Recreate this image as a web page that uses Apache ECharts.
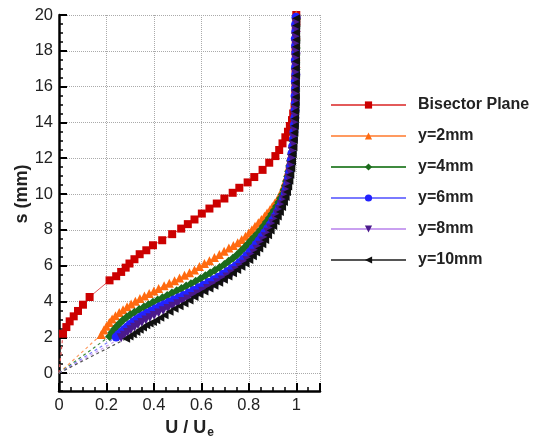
<!DOCTYPE html>
<html>
<head>
	<meta charset="UTF-8">
	<script src="https://cdn.jsdelivr.net/npm/echarts@6/dist/echarts.min.js"></script>
	<title></title>
	<style>body{margin:0;background:#fff;}</style>
</head>
<body>
	<div id="main" style="height:440px;width:538px;"></div>
	<script type="text/javascript">
        var seriesNames = ['Bisector Plane', 'y=2mm', 'y=4mm', 'y=6mm', 'y=8mm', 'y=10mm'];
        var xTicks = [0, 0.2, 0.4, 0.6, 0.8, 1];
        var yTicks = [0, 2, 4, 6, 8, 10, 12, 14, 16, 18, 20];

        // [U/Ue, s(mm)]
        var bisector = [[0.017,2.2],[0.031,2.57],[0.045,2.89],[0.062,3.17],[0.080,3.47],[0.101,3.82],[0.129,4.25],
            [0.213,5.18],[0.241,5.41],[0.262,5.65],[0.281,5.89],[0.297,6.12],[0.318,6.36],[0.340,6.64],[0.368,6.86],
            [0.396,7.14],[0.435,7.42],[0.477,7.76],[0.515,8.07],[0.543,8.32],[0.571,8.58],[0.602,8.91],[0.634,9.19],
            [0.665,9.47],[0.697,9.75],[0.732,10.07],[0.76,10.35],[0.795,10.65],[0.823,10.95],[0.858,11.35],[0.886,11.75],
            [0.912,12.12],[0.928,12.46],[0.942,12.83],[0.954,13.17],[0.965,13.48],[0.973,13.8],[0.982,14.13],[0.987,14.5],
            [0.993,14.88],[0.995,15.25],[0.996,15.6],[0.997,16.0],[0.996,16.4],[0.997,16.8],[0.998,17.2],[0.998,17.6],
            [0.997,18.0],[0.998,18.4],[0.999,18.8],[0.998,19.2],[1.0,19.6],[1.0,20.0]];
        var y2mm = [[0.178,2.15],[0.189,2.4],[0.2,2.62],[0.212,2.82],[0.224,3.02],[0.238,3.2],[0.254,3.38],[0.27,3.54],
            [0.287,3.7],[0.304,3.86],[0.322,4.01],[0.341,4.16],[0.36,4.3],[0.38,4.45],[0.4,4.59],[0.42,4.73],[0.443,4.88],
            [0.465,5.02],[0.487,5.16],[0.508,5.31],[0.529,5.46],[0.55,5.6],[0.571,5.76],[0.592,5.95],[0.613,6.12],
            [0.634,6.28],[0.655,6.45],[0.676,6.62],[0.696,6.8],[0.716,6.98],[0.735,7.12],[0.753,7.28],[0.77,7.46],
            [0.786,7.64],[0.8,7.82],[0.813,8.0],[0.826,8.2],[0.84,8.4],[0.853,8.58],[0.866,8.76],[0.877,8.94],[0.889,9.12],
            [0.899,9.3],[0.909,9.48],[0.919,9.66],[0.928,9.86],[0.936,10.06],[0.943,10.28],[0.949,10.5],[0.955,10.74],
            [0.96,10.98],[0.965,11.25],[0.97,11.55],[0.974,11.85],[0.978,12.2],[0.982,12.55],[0.985,12.9],[0.988,13.3],
            [0.99,13.7],[0.992,14.1],[0.994,14.5],[0.995,14.9],[0.996,15.3],[0.997,15.7],[0.998,16.1],[0.997,16.5],
            [0.998,16.9],[0.999,17.3],[0.998,17.7],[0.999,18.1],[0.998,18.5],[0.999,18.9],[1.0,19.3],[0.999,19.7],[1.0,20.0]];
        var y4mm = [[0.213,2.05],[0.223,2.27],[0.234,2.46],[0.245,2.63],[0.257,2.8],[0.27,2.96],[0.285,3.12],[0.3,3.26],
            [0.318,3.4],[0.338,3.55],[0.358,3.69],[0.377,3.82],[0.396,3.95],[0.416,4.08],[0.436,4.21],[0.456,4.34],
            [0.476,4.47],[0.496,4.6],[0.516,4.73],[0.536,4.86],[0.556,4.99],[0.576,5.13],[0.597,5.28],[0.617,5.43],
            [0.637,5.59],[0.657,5.75],[0.677,5.9],[0.697,6.06],[0.715,6.24],[0.733,6.42],[0.75,6.6],[0.766,6.8],
            [0.781,7.0],[0.795,7.2],[0.809,7.4],[0.823,7.6],[0.837,7.8],[0.85,8.0],[0.862,8.22],[0.874,8.44],[0.886,8.66],
            [0.897,8.88],[0.907,9.1],[0.917,9.32],[0.926,9.54],[0.934,9.76],[0.942,9.98],[0.948,10.22],[0.954,10.46],
            [0.959,10.72],[0.964,10.98],[0.968,11.26],[0.972,11.56],[0.976,11.88],[0.98,12.22],[0.983,12.58],[0.986,12.96],
            [0.989,13.36],[0.991,13.76],[0.993,14.16],[0.995,14.56],[0.996,14.96],[0.997,15.36],[0.998,15.76],[0.997,16.16],
            [0.998,16.56],[0.999,16.96],[0.998,17.36],[0.999,17.76],[1.0,18.16],[0.999,18.56],[0.998,18.96],[0.999,19.36],
            [1.0,19.76]];
        var y6mm = [[0.241,2.01],[0.252,2.16],[0.264,2.3],[0.276,2.44],[0.288,2.58],[0.3,2.72],[0.313,2.85],[0.327,2.98],
            [0.341,3.1],[0.356,3.22],[0.372,3.34],[0.389,3.46],[0.406,3.58],[0.424,3.7],[0.443,3.82],[0.463,3.95],
            [0.484,4.08],[0.505,4.21],[0.526,4.34],[0.547,4.48],[0.568,4.62],[0.589,4.76],[0.61,4.91],[0.631,5.06],
            [0.652,5.21],[0.672,5.36],[0.692,5.52],[0.711,5.68],[0.729,5.84],[0.746,6.0],[0.762,6.18],[0.777,6.36],
            [0.791,6.56],[0.805,6.76],[0.818,6.96],[0.831,7.18],[0.843,7.4],[0.855,7.62],[0.867,7.84],[0.879,8.06],
            [0.89,8.28],[0.901,8.52],[0.911,8.76],[0.921,9.0],[0.93,9.25],[0.939,9.5],[0.947,9.76],[0.954,10.02],
            [0.959,10.3],[0.964,10.58],[0.968,10.88],[0.972,11.2],[0.976,11.54],[0.979,11.9],[0.982,12.28],[0.985,12.68],
            [0.988,13.08],[0.99,13.48],[0.992,13.88],[0.994,14.28],[0.995,14.68],[0.996,15.08],[0.995,15.48],[0.997,15.88],
            [0.996,16.28],[0.998,16.68],[0.997,17.08],[0.996,17.48],[0.998,17.88],[0.997,18.28],[0.996,18.68],[0.998,19.08],
            [0.997,19.48],[0.999,19.88]];
        var y8mm = [[0.262,1.97],[0.275,2.12],[0.289,2.27],[0.303,2.42],[0.318,2.56],[0.333,2.7],[0.349,2.83],[0.366,2.96],
            [0.383,3.09],[0.401,3.22],[0.42,3.35],[0.439,3.48],[0.459,3.61],[0.479,3.74],[0.5,3.87],[0.521,4.0],[0.542,4.14],
            [0.563,4.28],[0.584,4.42],[0.605,4.57],[0.626,4.72],[0.647,4.88],[0.668,5.04],[0.688,5.2],[0.708,5.37],
            [0.727,5.54],[0.745,5.72],[0.762,5.9],[0.778,6.08],[0.793,6.28],[0.807,6.48],[0.821,6.7],[0.834,6.92],
            [0.847,7.14],[0.859,7.38],[0.87,7.62],[0.881,7.86],[0.891,8.1],[0.901,8.36],[0.911,8.62],[0.92,8.88],
            [0.929,9.14],[0.938,9.42],[0.946,9.7],[0.953,9.98],[0.959,10.28],[0.964,10.58],[0.969,10.9],[0.973,11.24],
            [0.977,11.6],[0.981,11.98],[0.984,12.38],[0.987,12.78],[0.99,13.18],[0.992,13.58],[0.994,13.98],[0.995,14.38],
            [0.996,14.78],[0.997,15.18],[0.996,15.58],[0.997,15.98],[0.998,16.38],[0.996,16.78],[0.997,17.18],[0.998,17.58],
            [0.997,17.98],[0.998,18.38],[0.997,18.78],[0.998,19.18],[0.999,19.58]];
        var y10mm = [[0.283,1.92],[0.297,2.05],[0.311,2.17],[0.326,2.29],[0.34,2.42],[0.354,2.55],[0.368,2.67],[0.382,2.77],
            [0.396,2.86],[0.41,2.95],[0.427,3.09],[0.445,3.23],[0.466,3.42],[0.487,3.6],[0.508,3.74],[0.529,3.88],
            [0.55,4.06],[0.571,4.25],[0.592,4.4],[0.613,4.56],[0.634,4.72],[0.655,4.88],[0.675,5.05],[0.695,5.22],
            [0.714,5.4],[0.733,5.58],[0.751,5.76],[0.769,5.94],[0.786,6.12],[0.802,6.32],[0.817,6.52],[0.831,6.74],
            [0.844,6.96],[0.857,7.2],[0.869,7.44],[0.881,7.7],[0.892,7.96],[0.903,8.22],[0.913,8.48],[0.922,8.74],
            [0.931,9.0],[0.94,9.28],[0.948,9.56],[0.955,9.84],[0.961,10.12],[0.966,10.42],[0.971,10.74],[0.975,11.08],
            [0.979,11.44],[0.982,11.82],[0.985,12.22],[0.988,12.62],[0.99,13.02],[0.992,13.42],[0.994,13.82],[0.995,14.22],
            [0.996,14.62],[0.997,15.02],[0.998,15.42],[0.997,15.82],[0.998,16.22],[0.999,16.62],[0.998,17.02],[0.999,17.42],
            [0.998,17.82],[0.999,18.22],[1.0,18.62],[0.999,19.02],[1.0,19.42],[1.0,19.82]];
        var wallPoint = [0, 0];

        var allData = [bisector, y2mm, y4mm, y6mm, y8mm, y10mm];
        var markerColors = ['#cc0000', '#ff6a10', '#1c6b1c', '#2222ff', '#4b1a8c', '#111111'];
        var lineColors = ['#e35a5a', '#ff9a60', '#3f8a3f', '#7a7aff', '#c9a0f0', '#555555'];
        var symbols = ['rect', 'triangle', 'diamond', 'circle', 'triangle', 'triangle'];
        var rotates = [0, 0, 0, 0, 180, 90];
        var sizes = [8, 9, 9, 9, 9, 8];

        var font = 'Liberation Sans, Arial, sans-serif';
        var myChart = echarts.init(document.getElementById('main'));

        var series = [];
        // dashed extension from the wall to the first point
        for (var i = 0; i < allData.length; i++) {
            series.push({
                type: 'line',
                name: seriesNames[i] + ' wall',
                xAxisIndex: 0, yAxisIndex: 0,
                data: [wallPoint, allData[i][0]],
                showSymbol: false,
                silent: true,
                lineStyle: {color: lineColors[i], width: 1.2, type: [3, 3]}
            });
        }
        for (var i = 0; i < allData.length; i++) {
            series.push({
                type: 'line',
                name: seriesNames[i],
                xAxisIndex: 0, yAxisIndex: 0,
                data: allData[i],
                symbol: symbols[i],
                symbolRotate: rotates[i],
                symbolSize: sizes[i],
                showAllSymbol: true,
                itemStyle: {color: markerColors[i]},
                lineStyle: {color: lineColors[i], width: 1}
            });
        }

        var option = {
            animation: false,
            backgroundColor: '#fff',
            textStyle: {fontFamily: font},
            grid: [
                {left: 59, right: 218, top: 15, bottom: 49, outerBoundsMode: 'none', containLabel: false},
                {left: 59, right: 218, top: 15, bottom: 49 + 376 / 21, outerBoundsMode: 'none', containLabel: false}
            ],
            legend: {
                orient: 'vertical',
                left: 330, top: 97, padding: 0,
                itemWidth: 75, itemHeight: 9, itemGap: 15,
                data: seriesNames,
                textStyle: {fontFamily: font, fontSize: 16, fontWeight: 'bold', color: '#222', padding: [0, 0, 0, 7]}
            },
            xAxis: [
                {
                    type: 'value', gridIndex: 0, min: 0, max: 1.1, interval: 0.2,
                    axisLine: {show: true, onZero: false, lineStyle: {color: '#000', width: 2.5}},
                    axisTick: {show: true, inside: true, length: 8, lineStyle: {color: '#000', width: 2}},
                    minorTick: {show: true, splitNumber: 4, length: 4, lineStyle: {color: '#000', width: 1.5}},
                    axisLabel: {
                        fontSize: 16.5, color: '#222', margin: 6,
                        formatter: function (v) {
                            var r = Math.round(v * 10) / 10;
                            return (Math.abs(v - r) < 1e-6 && xTicks.indexOf(r) >= 0) ? String(r) : '';
                        }
                    },
                    splitLine: {show: true, lineStyle: {color: '#aaa', type: 'dotted', width: 1}},
                    name: '{a|U / U}{b|e}',
                    nameLocation: 'middle', nameGap: 26,
                    nameTextStyle: {
                        rich: {
                            a: {fontSize: 18, fontWeight: 'bold', color: '#222', fontFamily: font},
                            b: {fontSize: 12, fontWeight: 'bold', color: '#222', fontFamily: font, padding: [10, 0, 0, 1]}
                        }
                    }
                },
                {
                    type: 'value', gridIndex: 1, min: 0, max: 1.1, show: false
                }
            ],
            yAxis: [
                {
                    type: 'value', gridIndex: 0, min: -1, max: 20, interval: 0.5,
                    axisLine: {show: true, onZero: false, lineStyle: {color: '#000', width: 2.5}},
                    axisTick: {show: true, inside: true, length: 4, lineStyle: {color: '#000', width: 1.5}},
                    axisLabel: {show: false},
                    splitLine: {show: false}
                },
                {
                    type: 'value', gridIndex: 1, min: 0, max: 20, interval: 2,
                    axisLine: {show: false},
                    axisTick: {show: true, inside: true, length: 8, lineStyle: {color: '#000', width: 2}},
                    axisLabel: {fontSize: 16.5, color: '#222', margin: 6,
                        formatter: function (v) { return yTicks.indexOf(v) >= 0 ? String(v) : ''; }},
                    splitLine: {show: true, lineStyle: {color: '#aaa', type: 'dotted', width: 1}},
                    name: 's (mm)',
                    nameLocation: 'middle', nameGap: 28,
                    nameTextStyle: {fontSize: 18, fontWeight: 'bold', color: '#222', fontFamily: font}
                }
            ],
            series: series
        };
        myChart.setOption(option);
	</script>
</body>
</html>
